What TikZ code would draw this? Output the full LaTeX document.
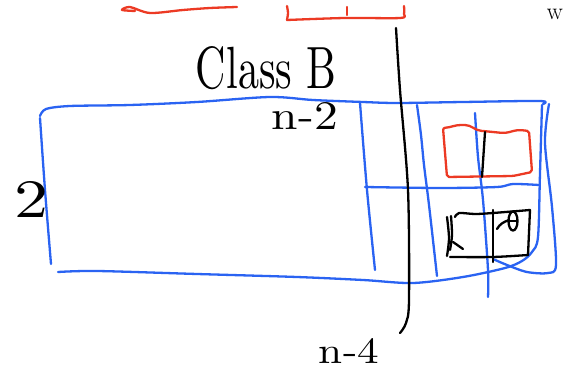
\documentclass[tikz,border=0pt]{standalone}
\usepackage{graphicx}
\definecolor{bluepen}{HTML}{2A63F2}
\definecolor{redpen}{HTML}{EC3A24}
\tikzset{
  bl/.style={draw=bluepen, line width=2.3pt, line cap=round, line join=round},
  rd/.style={draw=redpen, line width=2.3pt, line cap=round, line join=round},
  bk/.style={draw=black, line width=2.3pt, line cap=round, line join=round},
  lbl/.style={inner sep=0pt, text=black}
}
\begin{document}
\begin{tikzpicture}[x=1pt,y=-1pt]
\useasboundingbox (0,0) rectangle (573,371);
% ---- red strokes at the top
\draw[rd] plot[smooth] coordinates {(135,11) (122,10) (130,7) (150,13) (183,10) (210,8) (237,7)};
\draw[rd] plot[smooth] coordinates {(287,6) (288,13) (287,20)};
\draw[rd] plot[smooth] coordinates {(287,20) (345,18) (400,18) (404,14) (404,6)};
\draw[rd] (347,7) -- (347,15);
% ---- label w
\node[lbl, font=\fontsize{24}{24}\selectfont] (w) at (555,14) {w};
% ---- Class B
\node[lbl] (classb) at (266,68) {\resizebox{140pt}{42pt}{Class B}};
% ---- main blue rectangle
\draw[bl] plot[smooth] coordinates {(40,116) (46,109) (70,106) (130,105) (197,102) (270,97) (313,100) (363,102) (397,103) (463,102) (540,101) (543,104)};
\draw[bl] plot[smooth] coordinates {(40,118) (45,190) (51,264)};
\draw[bl] plot[smooth] coordinates {(542,105) (540,173) (538,237) (532,252) (522,261) (505,268) (463,277) (413,283) (363,280) (297,277) (197,274) (97,271) (58,272)};
\draw[bl] plot[smooth] coordinates {(549,104) (545,143) (552,207) (556,265) (548,273) (527,272) (507,265) (493,259)};
% ---- grid lines
\draw[bl] plot[smooth] coordinates {(360,103) (367,190) (375,270)};
\draw[bl] plot[smooth] coordinates {(417,105) (421,135) (424,165) (429,205) (437,276)};
\draw[bl] plot[smooth] coordinates {(475,113) (478,157) (483,200) (488,270) (488,297)};
\draw[bl] plot[smooth] coordinates {(365,187) (440,188) (497,187) (513,184) (539,185)};
% ---- red box
\draw[rd, rounded corners=2pt] (447,177) -- (443,128) to[out=5,in=180] (463,125) to[out=0,in=175] (483,131) -- (503,133) to[out=5,in=185] (520,130) -- (529,131) -- (532,172) -- (513,176) -- cycle;
\draw[bk] (485,132) -- (482,177);
% ---- black vertical line
\draw[bk] plot[smooth] coordinates {(396,28) (400,90) (408,190) (409,300) (406,323) (400,333)};
% ---- black box
\draw[bk] plot[smooth] coordinates {(455,217) (459,213) (475,214) (493,213) (530,210)};
\draw[bk] (530,210) -- (528,255);
\draw[bk] plot[smooth] coordinates {(528,255) (493,257) (450,257)};
\draw[bk] (493,210) -- (493,262);
\draw[bk] plot[smooth] coordinates {(447,217) (449,238) (447,256)};
\draw[bk] plot[smooth] coordinates {(451,216) (452,235) (450,250)};
\draw[bk] (453,242) -- (463,249);
\draw[bk] (513,221) ellipse [x radius=4.5pt, y radius=9.5pt];
\draw[bk] (509,221) -- (517,221);
\draw[bk] (497,229) to[out=60,in=200] (509,220);
% ---- labels
\node[lbl] (n2) at (305,116) {\resizebox{66pt}{27pt}{n-2}};
\node[lbl] (two) at (32,199) {\resizebox{34pt}{36pt}{2}};
\node[lbl] (n4) at (349,351) {\resizebox{60pt}{25pt}{n-4}};
\end{tikzpicture}
\end{document}
